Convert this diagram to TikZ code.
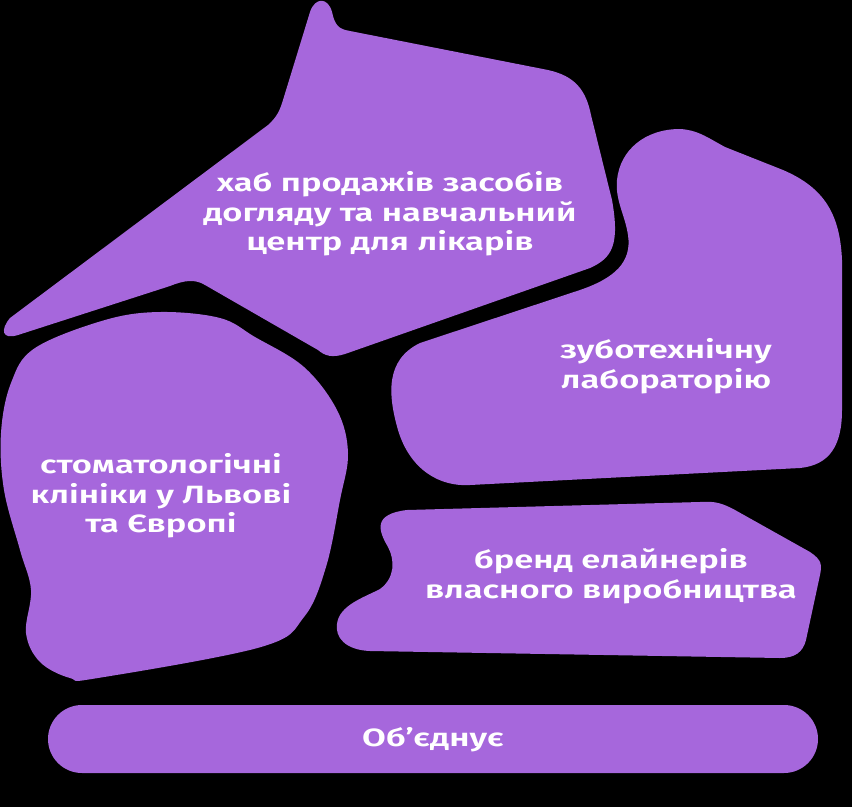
\documentclass[tikz,border=0pt]{standalone}
\usepackage{fontspec}
\setmainfont{Fira Sans}[UprightFont={* SemiBold},FakeStretch=1.38]
\begin{document}
\definecolor{blob}{HTML}{A667DC}
\begin{tikzpicture}[x=1pt,y=-1pt,
  blobfill/.style={fill=blob},
  label/.style={text=white,align=center,font=\fontsize{25}{29.5}\selectfont}]
\useasboundingbox (0,0) rectangle (852,807);
\fill[black] (0,0) rectangle (852,807);

% sales hub and training centre
\fill[blobfill] (350,31) -- (548,70)
  .. controls (575,76) and (586,90) .. (591,115)
  -- (612,200)
  .. controls (620,245) and (612,258) .. (590,268)
  -- (345,354)
  .. controls (332,358) and (325,356) .. (318,350)
  -- (205,285)
  .. controls (195,279) and (185,280) .. (170,286)
  -- (18,335)
  .. controls (2,340) and (0,330) .. (10,318)
  -- (268,125)
  .. controls (277,117) and (280,110) .. (283,100)
  -- (310,12)
  .. controls (315,-3) and (328,-3) .. (332,12)
  .. controls (335,25) and (338,29) .. (350,31) -- cycle;

% dental laboratory
\fill[blobfill] (680,129)
  .. controls (697,130) and (705,136) .. (725,147)
  -- (783,170)
  .. controls (825,188) and (840,215) .. (842,260)
  -- (842,410)
  .. controls (842,445) and (830,465) .. (800,468)
  -- (470,485)
  .. controls (440,487) and (410,470) .. (398,430)
  .. controls (388,395) and (385,360) .. (420,343)
  -- (580,290)
  .. controls (615,278) and (632,262) .. (628,235)
  .. controls (625,215) and (615,200) .. (617,180)
  .. controls (620,150) and (645,129) .. (680,129) -- cycle;

% clinics
\fill[blobfill] plot[smooth cycle,tension=0.6] coordinates {
  (160,312) (220,318) (255,337) (304,367) (337,410) (348,453) (340,500)
  (326,567) (304,617) (261,647) (98,678) (70,678) (40,662) (26,633)
  (31,590) (20,550) (4,490) (1,433) (11,383) (35,348) (105,320)};

% aligner brand
\fill[blobfill] (407,510) -- (700,502)
  .. controls (715,501) and (722,503) .. (735,510)
  -- (810,552)
  .. controls (822,560) and (822,565) .. (820,575)
  -- (806,640)
  .. controls (803,652) and (795,658) .. (780,658)
  -- (370,651)
  .. controls (345,650) and (335,637) .. (337,624)
  .. controls (339,605) and (365,597) .. (380,589)
  .. controls (395,578) and (395,560) .. (388,547)
  .. controls (378,530) and (373,514) .. (407,510) -- cycle;

% unifying bar
\fill[blobfill,rounded corners=34] (48,705) rectangle (818,773);

\node[label] (hub) at (390,214) {хаб продажів засобів\\догляду та навчальний\\центр для лікарів};
\node[label] (lab) at (666,366) {зуботехнічну\\лабораторію};
\node[label] (clinics) at (161,496) {стоматологічні\\клініки у Львові\\та Європі};
\node[label] (brand) at (611,576) {бренд елайнерів\\власного виробництва};
\node[label] (unite) at (433,740) {Об’єднує};
\end{tikzpicture}
\end{document}
